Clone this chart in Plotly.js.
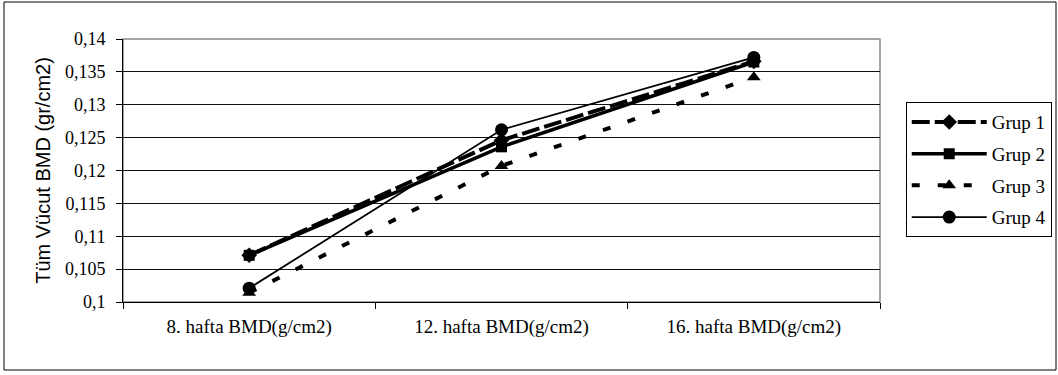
<!DOCTYPE html>
<html>
<head>
<meta charset="utf-8">
<script src="https://cdn.plot.ly/plotly-3.0.1.min.js"></script>
<style>
  html, body { margin: 0; padding: 0; background: #fff; }
  #chart { width: 1058px; height: 375px; }
</style>
</head>
<body>
<div id="chart"></div>
<script>
const categories = ["8. hafta BMD(g/cm2)", "12. hafta BMD(g/cm2)", "16. hafta BMD(g/cm2)"];
const seriesNames = ["Grup 1", "Grup 2", "Grup 3", "Grup 4"];
const grup1 = [0.1071, 0.1246, 0.1366];
const grup2 = [0.1071, 0.1236, 0.1365];
const grup3 = [0.1014, 0.1207, 0.1342];
const grup4 = [0.1021, 0.1262, 0.1372];
const yTickVals = [0.1, 0.105, 0.11, 0.115, 0.12, 0.125, 0.13, 0.135, 0.14];
const yTickText = ["0,1", "0,105", "0,11", "0,115", "0,12", "0,125", "0,13", "0,135", "0,14"];

const serif = "Liberation Serif, Times New Roman, serif";
const sans = "Liberation Sans, Arial, sans-serif";

const traces = [
  { y: grup1, name: seriesNames[0], line: { color: "#000", width: 4, dash: "18px,5px" },
    marker: { symbol: "diamond", size: 12, color: "#000" } },
  { y: grup2, name: seriesNames[1], line: { color: "#000", width: 3.5 },
    marker: { symbol: "square", size: 11, color: "#000" } },
  { y: grup3, name: seriesNames[2], line: { color: "#000", width: 4, dash: "8px,18px" },
    marker: { symbol: "triangle-up", size: 12, color: "#000" } },
  { y: grup4, name: seriesNames[3], line: { color: "#000", width: 1.8 },
    marker: { symbol: "circle", size: 13, color: "#000" } }
].map((t, i) => Object.assign({
  type: "scatter", mode: "lines+markers", x: categories, legendgroup: "g" + i
}, t));

const layout = {
  width: 1058, height: 375,
  margin: { l: 123, r: 178, t: 39, b: 73, autoexpand: false },
  paper_bgcolor: "#fff", plot_bgcolor: "#fff",
  showlegend: true,
  legend: {
    x: 1.034, xanchor: "left", y: 0.76, yanchor: "top",
    bordercolor: "#000", borderwidth: 1, bgcolor: "#fff",
    font: { family: serif, size: 19, color: "#000" },
    itemwidth: 75, tracegroupgap: 4
  },
  xaxis: {
    type: "category", range: [-0.5, 2.5],
    showline: true, linecolor: "#000", linewidth: 1, mirror: false,
    ticks: "outside", tickson: "boundaries", ticklen: 6, tickcolor: "#000",
    showgrid: false, zeroline: false, ticklabelstandoff: 7,
    tickfont: { family: serif, size: 19, color: "#000" }
  },
  yaxis: {
    range: [0.1, 0.14], tickvals: yTickVals, ticktext: yTickText,
    showline: true, linecolor: "#000", linewidth: 1,
    ticks: "outside", ticklen: 6, tickcolor: "#000", ticklabelstandoff: 7,
    showgrid: true, gridcolor: "#111", gridwidth: 1, zeroline: false,
    tickfont: { family: serif, size: 18, color: "#000" },
    title: { text: "Tüm Vücut BMD (gr/cm2)", font: { family: sans, size: 20, color: "#000" }, standoff: 8 }
  },
  shapes: [
    { type: "rect", xref: "paper", yref: "paper", x0: 0, x1: 1, y0: 0, y1: 1,
      line: { color: "#888", width: 1.5 }, layer: "below" },
    { type: "rect", xref: "paper", yref: "paper",
      x0: (4 - 123) / 757, x1: (1056 - 123) / 757, y0: (302 - 370) / 263, y1: (302 - 2) / 263,
      line: { color: "#000", width: 1 } }
  ]
};

Plotly.newPlot("chart", traces, layout, { displayModeBar: false, staticPlot: true });
</script>
</body>
</html>
